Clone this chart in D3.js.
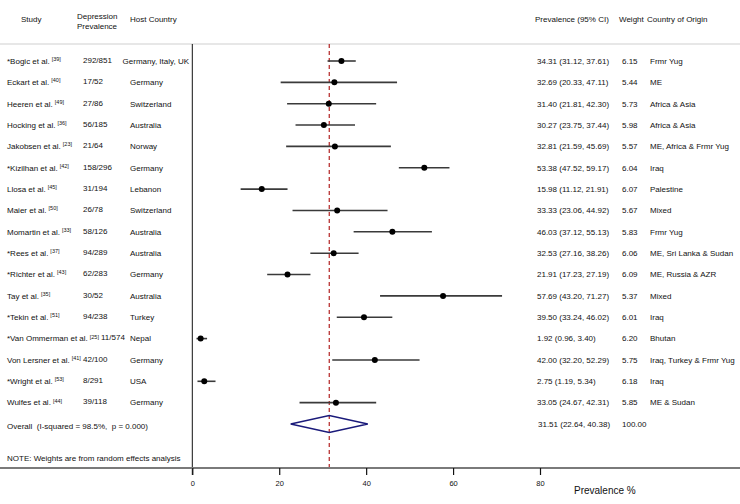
<!DOCTYPE html>
<html><head><meta charset="utf-8">
<script src="https://cdn.jsdelivr.net/npm/d3@7/dist/d3.min.js"></script>
<style>body{margin:0;background:#fff}svg{display:block;font-family:"Liberation Sans",Arial,sans-serif}text{white-space:pre}</style>
</head><body><svg id="c" width="740" height="504"></svg>
<script>
const studies = ["*Bogic et al.","Eckart et al.","Heeren et al.","Hocking et al.","Jakobsen et al.","*Kizilhan et al.","Llosa et al.","Maier et al.","Momartin et al.","*Rees et al.","*Richter et al.","Tay et al.","*Tekin et al.","*Van Ommerman et al.","Von Lersner et al.","*Wright et al.","Wulfes et al."];
const refs = ["[39]","[40]","[49]","[36]","[23]","[42]","[45]","[50]","[33]","[37]","[43]","[35]","[51]","[25]","[41]","[53]","[44]"];
const cases = ["292/851","17/52","27/86","56/185","21/64","158/296","31/194","26/78","58/126","94/289","62/283","30/52","94/238","11/574","42/100","8/291","39/118"];
const hosts = ["Germany, Italy, UK","Germany","Switzerland","Australia","Norway","Germany","Lebanon","Switzerland","Australia","Australia","Germany","Australia","Turkey","Nepal","Germany","USA","Germany"];
const est = [34.31,32.69,31.40,30.27,32.81,53.38,15.98,33.33,46.03,32.53,21.91,57.69,39.50,1.92,42.00,2.75,33.05];
const lo  = [31.12,20.33,21.81,23.75,21.59,47.52,11.12,23.06,37.12,27.16,17.23,43.20,33.24,0.96,32.20,1.19,24.67];
const hi  = [37.61,47.11,42.30,37.44,45.69,59.17,21.91,44.92,55.13,38.26,27.19,71.27,46.02,3.40,52.29,5.34,42.31];
const weights = ["6.15","5.44","5.73","5.98","5.57","6.04","6.07","5.67","5.83","6.06","6.09","5.37","6.01","6.20","5.75","6.18","5.85"];
const origins = ["Frmr Yug","ME","Africa & Asia","Africa & Asia","ME, Africa & Frmr Yug","Iraq","Palestine","Mixed","Frmr Yug","ME, Sri Lanka & Sudan","ME, Russia & AZR","Mixed","Iraq","Bhutan","Iraq, Turkey & Frmr Yug","Iraq","ME & Sudan"];
const overallEst = 31.51, overallLo = 22.64, overallHi = 40.38, overallWeight = "100.00";
const overallLabel = "Overall  (I-squared = 98.5%,  p = 0.000)";
const noteLabel = "NOTE: Weights are from random effects analysis";
const xTicks = [0,20,40,60,80];
const headers = {study:"Study", dep:["Depression","Prevalence"], host:"Host Country", ci:"Prevalence (95% CI)", weight:"Weight", origin:"Country of Origin"};
const axisTitle = "Prevalence %";

const svg = d3.select("#c");
const x = d3.scaleLinear().domain([0,80]).range([192.3,540]);
const y = d3.scaleLinear().domain([0,17]).range([61,424]);
const fs = 8;
const T = (xx,yy,txt,opts={}) => svg.append("text").attr("x",xx).attr("y",yy).attr("dy","0.35em")
  .attr("font-size",opts.size||fs).attr("fill","#111").attr("text-anchor",opts.anchor||"start").text(txt);

svg.append("line").attr("x1",0).attr("x2",740).attr("y1",44).attr("y2",44).attr("stroke","#cfcfcf").attr("stroke-width",1.2);
T(21,19,headers.study);
T(77,16,headers.dep[0]); T(77,26,headers.dep[1]);
T(130,19,headers.host);
T(535,19,headers.ci); T(619,19,headers.weight); T(647,19,headers.origin);

svg.append("line").attr("x1",x(0)).attr("x2",x(0)).attr("y1",44).attr("y2",475).attr("stroke","#111").attr("stroke-width",1);
svg.append("line").attr("x1",x(overallEst)).attr("x2",x(overallEst)).attr("y1",44).attr("y2",468)
  .attr("stroke","#b22222").attr("stroke-width",1.2).attr("stroke-dasharray","4,3");

studies.forEach((s,i)=>{
  const yy = y(i);
  const t = T(7,yy,s);
  const w = t.node().getComputedTextLength();
  const r = svg.append("text").attr("x",7+w+2).attr("y",yy-2).attr("dy","0.35em").attr("font-size",5.5).attr("fill","#111").text(refs[i]);
  const refEnd = 7+w+2+r.node().getComputedTextLength();
  T(Math.max(83, refEnd+2), yy-1, cases[i]);
  const h = T(130,yy,hosts[i]);
  const hw = h.node().getComputedTextLength();
  if (130+hw > 189) h.attr("x",189-hw);
  svg.append("line").attr("x1",x(lo[i])).attr("x2",x(hi[i])).attr("y1",yy).attr("y2",yy).attr("stroke","#3a3a3a").attr("stroke-width",1.6);
  svg.append("circle").attr("cx",x(est[i])).attr("cy",yy).attr("r",3).attr("fill","#000");
  T(537,yy,`${est[i].toFixed(2)} (${lo[i].toFixed(2)}, ${hi[i].toFixed(2)})`);
  T(622,yy,weights[i]);
  T(650,yy,origins[i]);
});

const oy = y(17);
T(7,oy+2,overallLabel);
svg.append("path").attr("d",`M${x(overallLo)},${oy} L${x(overallEst)},${oy-8.5} L${x(overallHi)},${oy} L${x(overallEst)},${oy+8.5} Z`)
  .attr("fill","none").attr("stroke","#1a1a7a").attr("stroke-width",1.4);
T(538,oy,`${overallEst.toFixed(2)} (${overallLo.toFixed(2)}, ${overallHi.toFixed(2)})`);
T(622,oy,overallWeight);
T(7,458,noteLabel);

svg.append("line").attr("x1",0).attr("x2",740).attr("y1",468).attr("y2",468).attr("stroke","#7a7a7a").attr("stroke-width",2);
const ax = svg.append("g").attr("transform","translate(0,468)")
  .call(d3.axisBottom(x).tickValues(xTicks).tickSize(7).tickPadding(6).tickFormat(d3.format("d")));
ax.select(".domain").remove();
ax.selectAll(".tick line").attr("stroke","#111").attr("stroke-width",1.2);
ax.selectAll(".tick text").attr("font-size",7.5).attr("fill","#111").attr("font-family","Liberation Sans, Arial, sans-serif");
T(574,490,axisTitle,{size:10});
</script></body></html>
